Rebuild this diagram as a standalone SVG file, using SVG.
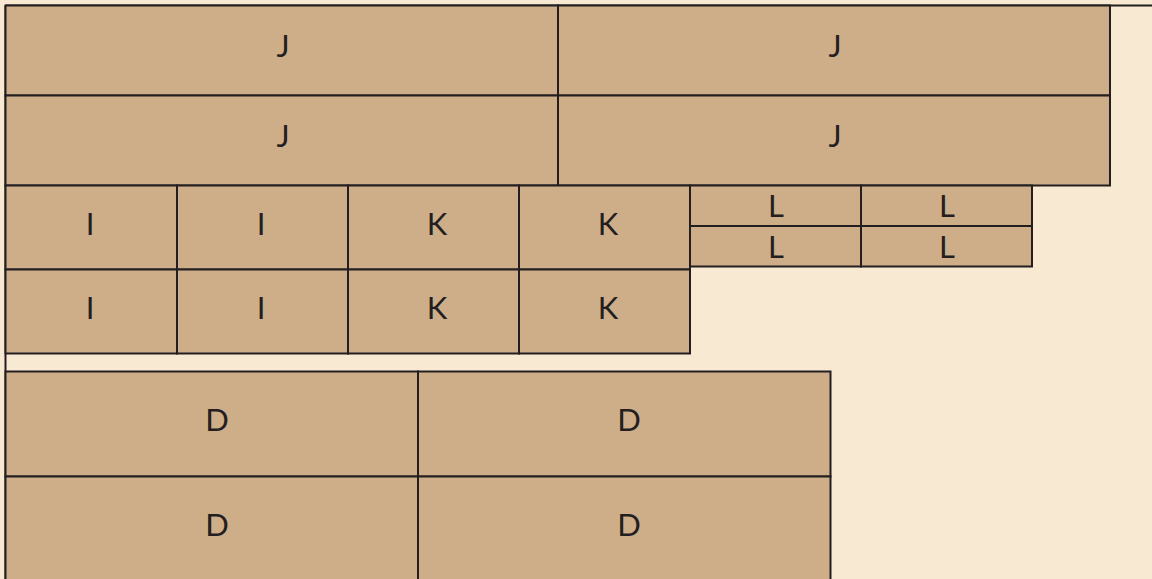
<svg xmlns="http://www.w3.org/2000/svg" width="1152" height="579" viewBox="0 0 1152 579">
<style>
.b{fill:#CEAE88;stroke:#231F20;stroke-width:2}
.t{font-family:Lato,"Open Sans",sans-serif;font-size:31px;fill:#231F20;text-anchor:middle}
.f{stroke:#231F20;stroke-width:2;fill:none}
</style>
<rect x="0" y="0" width="1152" height="579" fill="#F8E9D2"/>
<g id="frame"><path class="f" d="M5.5,5.5H1152M5.5,5.5V579"/></g>
<g id="J1"><rect class="b" x="5.5" y="5.5" width="552.5" height="90"/><text class="t" x="283" y="57">J</text></g>
<g id="J2"><rect class="b" x="558" y="5.5" width="552" height="90"/><text class="t" x="835" y="57">J</text></g>
<g id="J3"><rect class="b" x="5.5" y="95.5" width="552.5" height="90"/><text class="t" x="283" y="147">J</text></g>
<g id="J4"><rect class="b" x="558" y="95.5" width="552" height="90"/><text class="t" x="835" y="147">J</text></g>
<g id="I1"><rect class="b" x="5.5" y="185.5" width="171.5" height="84"/><text class="t" x="90" y="235">I</text></g>
<g id="I2"><rect class="b" x="177" y="185.5" width="171" height="84"/><text class="t" x="261" y="235">I</text></g>
<g id="K1"><rect class="b" x="348" y="185.5" width="171" height="84"/><text class="t" x="437" y="235">K</text></g>
<g id="K2"><rect class="b" x="519" y="185.5" width="171" height="84"/><text class="t" x="608" y="235">K</text></g>
<g id="I3"><rect class="b" x="5.5" y="269.5" width="171.5" height="84"/><text class="t" x="90" y="319">I</text></g>
<g id="I4"><rect class="b" x="177" y="269.5" width="171" height="84"/><text class="t" x="261" y="319">I</text></g>
<g id="K3"><rect class="b" x="348" y="269.5" width="171" height="84"/><text class="t" x="437" y="319">K</text></g>
<g id="K4"><rect class="b" x="519" y="269.5" width="171" height="84"/><text class="t" x="608" y="319">K</text></g>
<g id="L1"><rect class="b" x="690" y="185.5" width="171" height="40.5"/><text class="t" x="776" y="217">L</text></g>
<g id="L2"><rect class="b" x="861" y="185.5" width="171" height="40.5"/><text class="t" x="947" y="217">L</text></g>
<g id="L3"><rect class="b" x="690" y="226" width="171" height="40.5"/><text class="t" x="776" y="258">L</text></g>
<g id="L4"><rect class="b" x="861" y="226" width="171" height="40.5"/><text class="t" x="947" y="258">L</text></g>
<g id="D1"><rect class="b" x="5.5" y="371.5" width="412.5" height="105"/><text class="t" x="217" y="431">D</text></g>
<g id="D2"><rect class="b" x="418" y="371.5" width="412.5" height="105"/><text class="t" x="629" y="431">D</text></g>
<g id="D3"><rect class="b" x="5.5" y="476.5" width="412.5" height="106"/><text class="t" x="217" y="536">D</text></g>
<g id="D4"><rect class="b" x="418" y="476.5" width="412.5" height="106"/><text class="t" x="629" y="536">D</text></g>
<g id="connectors"></g>
</svg>
